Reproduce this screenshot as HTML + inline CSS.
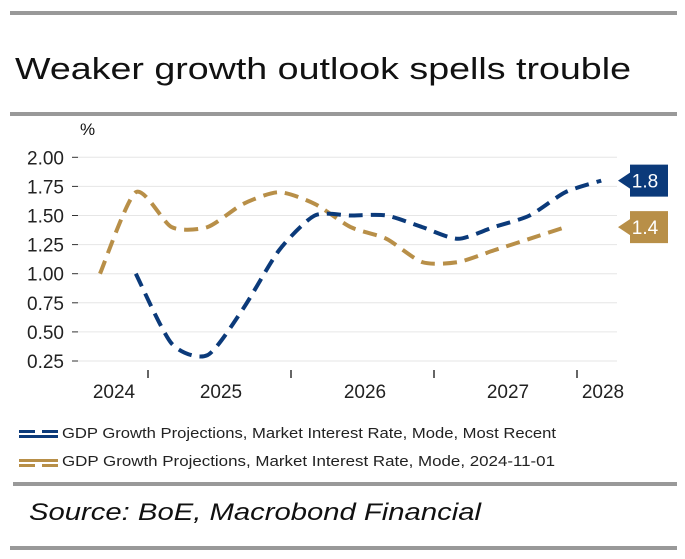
<!DOCTYPE html>
<html><head><meta charset="utf-8"><style>
html,body{margin:0;padding:0;background:#fff;}
svg{display:block;font-family:"Liberation Sans",sans-serif;}
</style></head><body>
<svg id="chart" width="685" height="559" viewBox="0 0 685 559" xmlns="http://www.w3.org/2000/svg">
<rect x="10" y="11" width="667" height="4" fill="#999"/>
<text x="15" y="79" font-size="31" fill="#111" textLength="616" lengthAdjust="spacingAndGlyphs">Weaker growth outlook spells trouble</text>
<rect x="10" y="112" width="667" height="4" fill="#999"/>
<text x="80" y="135" font-size="17" fill="#111">%</text>
<g id="grid"></g><g id="yaxis"></g><g id="xaxis"></g><g id="series"></g><g id="labels"></g>
<g>
<g>
<rect x="19" y="430" width="16" height="3" fill="#0b3a7a"/><rect x="42" y="430" width="16" height="3" fill="#0b3a7a"/><rect x="19" y="435" width="39" height="3" fill="#0b3a7a"/>
<text x="62" y="438" font-size="15" fill="#222" textLength="494" lengthAdjust="spacingAndGlyphs">GDP Growth Projections, Market Interest Rate, Mode, Most Recent</text></g>
<g>
<rect x="19" y="459" width="39" height="3" fill="#b88f48"/><rect x="19" y="464" width="16" height="3" fill="#b88f48"/><rect x="42" y="464" width="16" height="3" fill="#b88f48"/>
<text x="62" y="466" font-size="15" fill="#222" textLength="493" lengthAdjust="spacingAndGlyphs">GDP Growth Projections, Market Interest Rate, Mode, 2024-11-01</text></g>
</g>
<rect x="13" y="482" width="664" height="4" fill="#999"/>
<text x="29" y="520" font-size="24" font-style="italic" fill="#111" textLength="452" lengthAdjust="spacingAndGlyphs">Source: BoE, Macrobond Financial</text>
<rect x="10" y="546" width="667" height="4" fill="#999"/>
</svg>
<script>
const yTicks=[2.00,1.75,1.50,1.25,1.00,0.75,0.50,0.25];
const yearLabels=["2024","2025","2026","2027","2028"];
const recentValues=[null,1.0,0.4,0.3,0.7,1.2,1.5,1.5,1.5,1.4,1.3,1.4,1.5,1.7,1.8];
const novValues=[1.0,1.7,1.4,1.4,1.6,1.7,1.6,1.4,1.3,1.1,1.1,1.2,1.3,1.4];
const recentLast="1.8";
const novLast="1.4";

const NS="http://www.w3.org/2000/svg";
const X0=100,QW=35.8,PL=78,PR=617;
function y(v){return 157.3+(2-v)*116.4;}
function x(i){return X0+i*QW;}
function el(tag,attrs,parent){const e=document.createElementNS(NS,tag);for(const k in attrs)e.setAttribute(k,attrs[k]);parent.appendChild(e);return e;}
const grid=document.getElementById('grid'),ya=document.getElementById('yaxis'),xa=document.getElementById('xaxis'),se=document.getElementById('series'),lb=document.getElementById('labels');
yTicks.forEach(v=>{
  const g=el('line',{x1:PL,x2:PR,y1:y(v),y2:y(v),stroke:'#e6e6e6','stroke-width':1},grid);
  
  
  const t=el('line',{x1:72,x2:78,y1:y(v),y2:y(v),stroke:'#333','stroke-width':1},ya);
  
  
  const l=el('text',{x:64,y:y(v)+7,'font-size':19,'text-anchor':'end',fill:'#222'},ya);
  l.textContent=v.toFixed(2);
  
  
});
[2025,2026,2027,2028].forEach(yr=>{
  const xx=148+(yr-2025)*143;
  const t=el('line',{x1:xx,x2:xx,y1:370,y2:378,stroke:'#333','stroke-width':1.5},xa);
  
  
});
const labX=[114,221,365,508,603];
yearLabels.forEach((s,i)=>{
  const l=el('text',{x:labX[i],y:398,'font-size':19,'text-anchor':'middle',fill:'#222'},xa);
  l.textContent=s;
  
  
});
function path(vals){
  const pts=[];vals.forEach((v,i)=>{if(v!=null)pts.push([x(i),y(v)]);});
  let d='M'+pts[0][0].toFixed(1)+','+pts[0][1].toFixed(1);
  const t=0.12;
  for(let i=0;i<pts.length-1;i++){
    const p0=pts[Math.max(0,i-1)],p1=pts[i],p2=pts[i+1],p3=pts[Math.min(pts.length-1,i+2)];
    const c1=[p1[0]+(p2[0]-p0[0])*t,p1[1]+(p2[1]-p0[1])*t];
    const c2=[p2[0]-(p3[0]-p1[0])*t,p2[1]-(p3[1]-p1[1])*t];
    d+='C'+c1.map(n=>n.toFixed(1)).join(',')+' '+c2.map(n=>n.toFixed(1)).join(',')+' '+p2[0].toFixed(1)+','+p2[1].toFixed(1);
  }
  return d;
}
const p2=el('path',{d:path(novValues),fill:'none',stroke:'#b88f48','stroke-width':4,'stroke-dasharray':'14 8'},se);


const p1=el('path',{d:path(recentValues),fill:'none',stroke:'#0b3a7a','stroke-width':4,'stroke-dasharray':'14 8'},se);


function tag(vals,txt,color,name){
  const v=vals[vals.length-1];const cy=y(v);
  const g=el('g',{},lb);
  
  
  el('path',{d:`M618,${cy}L630,${cy-8}L630,${cy-16}L668,${cy-16}L668,${cy+16}L630,${cy+16}L630,${cy+8}Z`,fill:color},g);
  const t=el('text',{x:645,y:cy+7,'font-size':19,'text-anchor':'middle',fill:'#fff'},g);
  t.textContent=txt;
}
tag(recentValues,recentLast,'#0b3a7a','last-value-most-recent');
tag(novValues,novLast,'#b88f48','last-value-2024-11-01');
</script>
</body></html>
